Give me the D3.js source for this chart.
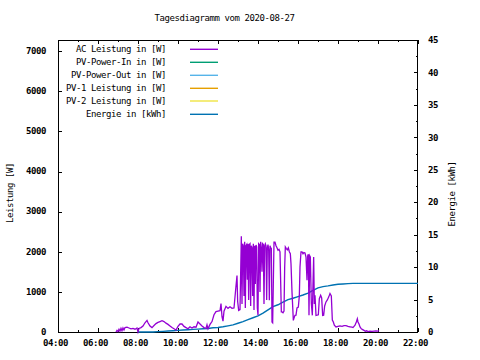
<!DOCTYPE html>
<html><head><meta charset="utf-8">
<script src="https://cdn.jsdelivr.net/npm/d3@7"></script>
<style>
body{margin:0;background:#fff}
svg text{font-family:"DejaVu Sans Mono",monospace;font-size:9px;letter-spacing:-0.42px;fill:#000}
.tick text{font-weight:bold}
</style></head><body><svg id="c" width="480" height="360"></svg>
<script>
const titleText = "Tagesdiagramm vom 2020-08-27";
const xTickLabels = ["04:00","06:00","08:00","10:00","12:00","14:00","16:00","18:00","20:00","22:00"];
const yTickValues = [0,1000,2000,3000,4000,5000,6000,7000];
const y2TickValues = [0,5,10,15,20,25,30,35,40,45];
const seriesNames = ["AC Leistung in [W]","PV-Power-In in [W]","PV-Power-Out in [W]","PV-1 Leistung in [W]","PV-2 Leistung in [W]","Energie in [kWh]"];
const seriesColors = ["#9400d3","#009e73","#56b4e9","#e69f00","#f0e442","#0072b2"];

const acTimes = ["06:54","06:57","07:00","07:03","07:06","07:09","07:12","07:15","07:18","07:21","07:27","07:33","07:39","07:45","07:51","07:57",
"08:00","08:03","08:09","08:15","08:21","08:27","08:30","08:36","08:42","08:48","08:54","09:00","09:06","09:12","09:18","09:24","09:30","09:36","09:42","09:48","09:54",
"10:00","10:06","10:12","10:18","10:24","10:30","10:36","10:42","10:48","10:54","11:00","11:06","11:12","11:18","11:24","11:27","11:30","11:36","11:42","11:48","11:54",
"12:00","12:06","12:09","12:12","12:15","12:18","12:24","12:30","12:36","12:42","12:48","12:53","12:57","12:59","13:02","13:06",
"13:10","13:12","13:14","13:16","13:18","13:20","13:22","13:24","13:26","13:28","13:30","13:32","13:34","13:36","13:38","13:40","13:42","13:44","13:46","13:48","13:50","13:52","13:54","13:56","13:58",
"14:00","14:02","14:04","14:06","14:08","14:10","14:12","14:14","14:16","14:18","14:20","14:22","14:24","14:26","14:28","14:30","14:32","14:34","14:36","14:38","14:40","14:42","14:44","14:48","14:51","14:54","14:57",
"15:00","15:03","15:06","15:08","15:10","15:12","15:15","15:18","15:20","15:22","15:25","15:28","15:31","15:34","15:37","15:39","15:42","15:46","15:48","15:51","15:54","15:57",
"16:01","16:04","16:06","16:09","16:12","16:15","16:18","16:21","16:24","16:27","16:29","16:31","16:33","16:35","16:37","16:40","16:43","16:45","16:47","16:49","16:51","16:54","16:57",
"17:01","17:04","17:08","17:11","17:14","17:17","17:20","17:24","17:28","17:32","17:36","17:40","17:43","17:46","17:49","17:54",
"18:00","18:06","18:12","18:18","18:24","18:30","18:36","18:42","18:45","18:51","18:55","18:58",
"19:00","19:03","19:06","19:10","19:14","19:18","19:22","19:26","19:30","19:36","19:42","19:48","19:54","20:00","20:03"];
const acPower = [0,40,10,70,20,90,30,100,50,110,120,100,80,90,70,100,
0,90,110,150,230,290,230,150,110,160,210,240,260,280,260,220,190,150,110,80,50,
140,200,200,140,110,80,130,100,130,120,250,200,150,110,90,180,80,190,260,430,510,
520,530,710,380,270,520,640,590,630,590,600,1060,1410,760,540,560,
2390,700,2200,2150,900,2250,600,2150,2180,1300,2200,800,2180,2200,650,2150,2100,900,2200,550,2150,1200,2170,2120,600,
420,2200,2180,1000,2250,2100,1500,2200,2180,700,2150,2200,2150,800,2100,2180,2050,790,2150,2100,2080,250,230,2240,2240,2150,2100,
2040,2060,2000,1250,500,500,480,520,1600,2120,2080,2050,2100,2000,1950,1700,1000,290,350,415,420,600,
620,900,1620,2000,2000,1950,1980,1970,1870,1290,1900,1940,415,1900,1870,710,415,1200,1870,700,915,415,420,
430,830,915,850,415,420,650,750,800,870,960,900,300,250,170,125,
140,150,140,160,160,140,130,120,110,170,250,330,
250,200,125,80,60,40,20,30,10,20,15,20,25,20,40];

const energyTimes = ["08:00","08:15","08:30","08:45","09:00","09:15","09:30","09:45","10:00","10:15","10:30","10:45","11:00","11:15","11:30","11:45",
"12:00","12:15","12:30","12:45","13:00","13:15","13:30","13:45","14:00","14:15","14:30","14:45","15:00","15:15","15:30","15:45",
"16:00","16:15","16:30","16:45","17:00","17:15","17:30","17:45","18:00","18:15","18:30","18:45","19:00","20:00","21:00","22:00"];
const energyValues = [0,0,0,0,0.05,0.1,0.15,0.2,0.25,0.3,0.35,0.4,0.45,0.5,0.55,0.65,
0.7,0.8,0.95,1.1,1.35,1.6,1.9,2.2,2.5,2.9,3.4,3.9,4.2,4.6,5.0,5.2,
5.45,5.7,6.0,6.4,6.8,7.0,7.1,7.25,7.35,7.4,7.45,7.5,7.5,7.5,7.5,7.5];

const toH = s => { const [h,m] = s.split(":").map(Number); return h + m/60; };

const L = 58, R = 418, T = 40, B = 332;
const svg = d3.select("#c");
const x = d3.scaleLinear().domain([4,22]).range([L,R]);
const y = d3.scaleLinear().domain([0,7280]).range([B,T]);
const y2 = d3.scaleLinear().domain([0,45]).range([B,T]);

// title
svg.append("text").attr("x",224.5).attr("y",18).attr("dy","0.35em").attr("text-anchor","middle").text(titleText);

// axes
const majorX = xTickLabels.map(toH);
const minorX = d3.range(5,22,2);
const gB = svg.append("g").attr("transform",`translate(0,${B})`)
  .call(d3.axisBottom(x).tickValues(majorX).tickSize(-4).tickPadding(11).tickFormat((d,i)=>xTickLabels[i]));
const gBm = svg.append("g").attr("transform",`translate(0,${B})`)
  .call(d3.axisBottom(x).tickValues(minorX).tickSize(-2).tickFormat(""));
const gT = svg.append("g").attr("transform",`translate(0,${T})`)
  .call(d3.axisTop(x).tickValues(majorX).tickSize(-4).tickFormat(""));
const gTm = svg.append("g").attr("transform",`translate(0,${T})`)
  .call(d3.axisTop(x).tickValues(minorX).tickSize(-2).tickFormat(""));
const gL = svg.append("g").attr("transform",`translate(${L},0)`)
  .call(d3.axisLeft(y).tickValues(yTickValues).tickSize(-4).tickPadding(12).tickFormat(d3.format("d")));
const gR = svg.append("g").attr("transform",`translate(${R},0)`)
  .call(d3.axisRight(y2).tickValues(y2TickValues).tickSize(-4).tickPadding(10).tickFormat(d3.format("d")));
const gRm = svg.append("g").attr("transform",`translate(${R},0)`)
  .call(d3.axisRight(y2).tickValues(d3.range(2.5,45,5)).tickSize(-2).tickFormat(""));
[gB,gBm,gT,gTm,gL,gR,gRm].forEach(g=>{
  g.select(".domain").remove();
  g.selectAll("line").attr("stroke","#000").attr("stroke-width",1).attr("shape-rendering","crispEdges");
  g.attr("font-family",null).attr("font-size",null);
});
gB.selectAll(".tick text").attr("dy","0.35em").attr("dx",-3);
gL.selectAll(".tick text").attr("dy","0.25em");
gR.selectAll(".tick text").attr("dy","0.3em");

// frame
svg.append("rect").attr("x",L+0.5).attr("y",T+0.5).attr("width",R-L-1).attr("height",B-T)
  .attr("fill","none").attr("stroke","#000").attr("stroke-width",1);

// axis titles
svg.append("text").attr("transform","translate(10,193) rotate(-90)").attr("text-anchor","middle").attr("dy","0.35em").text("Leistung [W]");
svg.append("text").attr("transform","translate(452,194) rotate(-90)").attr("text-anchor","middle").attr("dy","0.35em").text("Energie [kWh]");

// data lines
const acData = acTimes.map((t,i)=>({h:toH(t),v:acPower[i]}));
const enData = energyTimes.map((t,i)=>({h:toH(t),v:energyValues[i]}));
svg.append("path").datum(enData).attr("fill","none").attr("stroke",seriesColors[5]).attr("stroke-width",1.4)
  .attr("d",d3.line().x(d=>x(d.h)).y(d=>y2(d.v)));
svg.append("path").datum(acData).attr("fill","none").attr("stroke",seriesColors[0]).attr("stroke-width",1.3)
  .attr("stroke-linejoin","miter").attr("d",d3.line().x(d=>x(d.h)).y(d=>y(d.v)));

// legend
const legY = [49.3,62.3,75.3,88.3,101,114.3];
const leg = svg.append("g");
seriesNames.forEach((n,i)=>{
  leg.append("text").attr("x",166).attr("y",legY[i]).attr("dy","0.35em").attr("text-anchor","end").text(n);
  leg.append("line").attr("x1",190).attr("x2",218).attr("y1",legY[i]).attr("y2",legY[i])
    .attr("stroke",seriesColors[i]).attr("stroke-width",1.4);
});
</script></body></html>
